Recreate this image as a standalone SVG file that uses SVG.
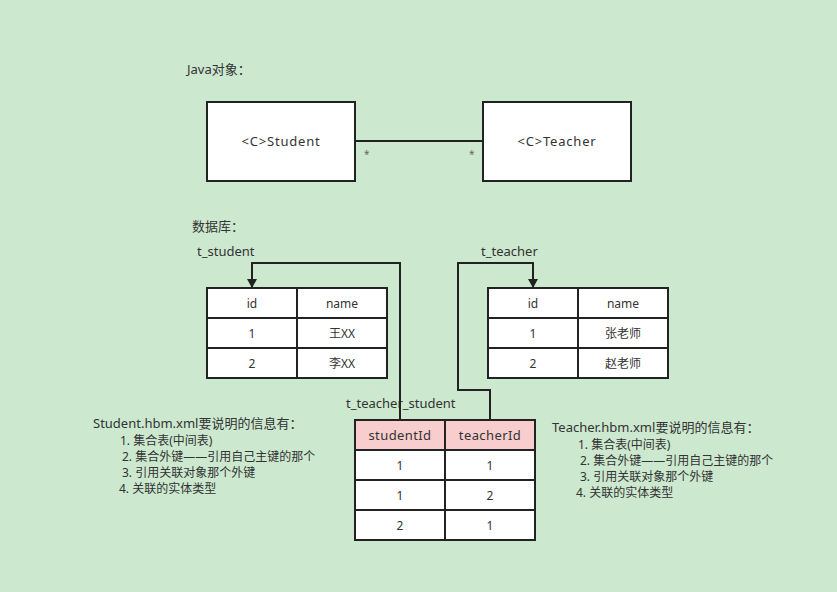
<svg xmlns="http://www.w3.org/2000/svg" width="837" height="592" viewBox="0 0 837 592">
<style>
text{font-family:"Noto Sans","Noto Sans CJK SC",sans-serif;font-size:13px;fill:#333}
.c{text-anchor:middle;dominant-baseline:central}
.box{fill:#fff;stroke:#222;stroke-width:2}
.hd{fill:#f8cdcd;stroke:#222;stroke-width:2}
.ln{fill:none;stroke:#222;stroke-width:2}
.n{font-size:12px}
.cls{letter-spacing:0.8px}
.nt{font-size:12px}
</style>
<defs>
<marker id="arr" markerWidth="10" markerHeight="10" refX="8" refY="5" orient="auto" markerUnits="userSpaceOnUse">
<path d="M0,0 L9,5 L0,10 Z" fill="#222"/>
</marker>
</defs>
<rect width="837" height="592" fill="#cce8cf"/>
<text x="187" y="74">Java对象：</text>
<text x="192" y="231">数据库：</text>

<g id="student">
<rect class="box" x="207" y="102" width="148" height="79"/>
<text class="c cls" x="281" y="141">&lt;C&gt;Student</text>
</g>
<g id="teacher">
<rect class="box" x="483" y="102" width="148" height="79"/>
<text class="c cls" x="557" y="141">&lt;C&gt;Teacher</text>
</g>

<g id="t_student">
<text x="197" y="256">t_student</text>
<rect class="box" x="207" y="288" width="180" height="90"/>
<path class="ln" d="M297,288V378M207,318H387M207,348H387"/>
<text class="c n" x="252" y="303">id</text>
<text class="c n" x="342" y="303">name</text>
<text class="c n" x="252" y="333">1</text>
<text class="c n" x="342" y="333">王XX</text>
<text class="c n" x="252" y="363">2</text>
<text class="c n" x="342" y="363">李XX</text>
</g>

<g id="t_teacher">
<text x="481" y="256">t_teacher</text>
<rect class="box" x="488" y="288" width="180" height="90"/>
<path class="ln" d="M578,288V378M488,318H668M488,348H668"/>
<text class="c n" x="533" y="303">id</text>
<text class="c n" x="623" y="303">name</text>
<text class="c n" x="533" y="333">1</text>
<text class="c n" x="623" y="333">张老师</text>
<text class="c n" x="533" y="363">2</text>
<text class="c n" x="623" y="363">赵老师</text>
</g>

<g id="t_teacher_student">
<text x="346" y="408">t_teacher_student</text>
<rect class="box" x="355" y="420" width="180" height="120"/>
<rect class="hd" x="355" y="420" width="180" height="30"/>
<path class="ln" d="M445,420V540M355,480H535M355,510H535"/>
<text class="c" x="400" y="435" style="letter-spacing:0.4px">studentId</text>
<text class="c" x="490" y="435" style="letter-spacing:0.4px">teacherId</text>
<text class="c n" x="400" y="465">1</text>
<text class="c n" x="490" y="465">1</text>
<text class="c n" x="400" y="495">1</text>
<text class="c n" x="490" y="495">2</text>
<text class="c n" x="400" y="525">2</text>
<text class="c n" x="490" y="525">1</text>
</g>

<g id="connectors">
<path class="ln" d="M355,141H483"/>
<text x="364" y="158" style="font-size:10px;fill:#666">*</text>
<text x="469" y="158" style="font-size:10px;fill:#666">*</text>
<path class="ln" d="M400,420V263H252V287" marker-end="url(#arr)"/>
<path class="ln" d="M490,420V390H458V263H533V287" marker-end="url(#arr)"/>
</g>

<g id="note_student">
<text x="93" y="428" style="font-size:13px">Student.hbm.xml要说明的信息有：</text>
<text class="nt" x="120" y="445">1. 集合表(中间表)</text>
<text class="nt" x="122" y="461">2. 集合外键——引用自己主键的那个</text>
<text class="nt" x="122" y="477">3. 引用关联对象那个外键</text>
<text class="nt" x="119" y="493">4. 关联的实体类型</text>
</g>
<g id="note_teacher">
<text x="552" y="432" style="font-size:13px">Teacher.hbm.xml要说明的信息有：</text>
<text class="nt" x="578" y="449">1. 集合表(中间表)</text>
<text class="nt" x="580" y="465">2. 集合外键——引用自己主键的那个</text>
<text class="nt" x="580" y="481">3. 引用关联对象那个外键</text>
<text class="nt" x="576" y="497">4. 关联的实体类型</text>
</g>
</svg>
